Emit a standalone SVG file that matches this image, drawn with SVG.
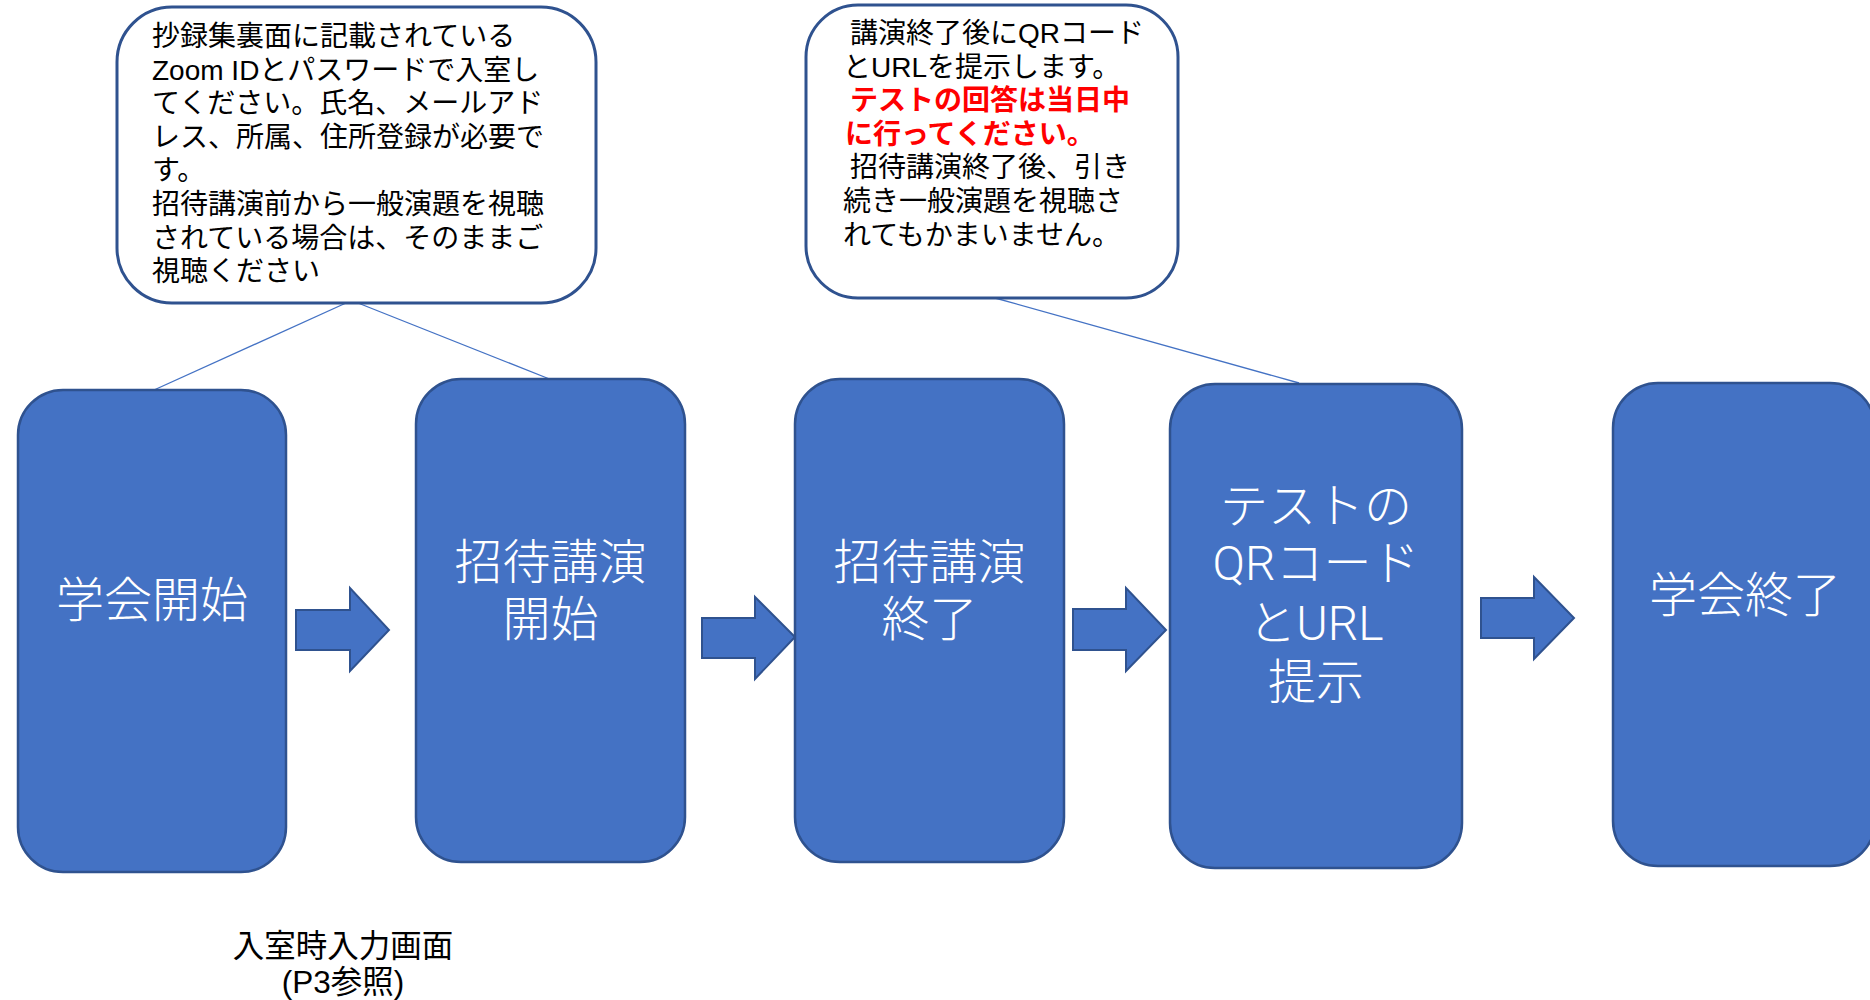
<svg xmlns="http://www.w3.org/2000/svg" width="1870" height="1000" viewBox="0 0 1870 1000">
<style>
.box{fill:#4472C4;stroke:#2F528F;stroke-width:2.5}
.callout{fill:#FFFFFF;stroke:#2F528F;stroke-width:3}
.arrow{fill:#4472C4;stroke:#2F528F;stroke-width:2}
.ptr{stroke:#4472C4;stroke-width:1.3;fill:none}
.note{font-family:"Liberation Sans","Noto Sans CJK JP",sans-serif;font-size:28px;fill:#000000}
.red{fill:#FF0000;font-weight:bold}
.big{font-family:Roboto,"Noto Sans CJK JP",sans-serif;font-size:48px;fill:#FFFFFF;text-anchor:middle;font-weight:300}
.cap{font-family:"Liberation Sans","Noto Sans CJK JP",sans-serif;font-size:31.5px;fill:#000000;text-anchor:middle}
</style>
<rect width="1870" height="1000" fill="#FFFFFF"/>
<g id="connectors">
<line class="ptr" x1="346" y1="303" x2="154" y2="390"/>
<line class="ptr" x1="358" y1="303" x2="552" y2="380"/>
<line class="ptr" x1="995" y1="298" x2="1299" y2="383"/>
<polygon class="arrow" points="296,610 350,610 350,588 389,630 350,671 350,650 296,650"/>
<polygon class="arrow" points="702,618 755,618 755,597 795,637 755,679 755,658 702,658"/>
<polygon class="arrow" points="1073,609 1126,609 1126,588 1166,630 1126,671 1126,650 1073,650"/>
<polygon class="arrow" points="1481,598 1534,598 1534,577 1574,618 1534,659 1534,638 1481,638"/>
</g>
<g id="note1">
<rect class="callout" x="117" y="7" width="479" height="296" rx="55" ry="55"/>
<text class="note">
<tspan x="152" y="46">抄録集裏面に記載されている</tspan>
<tspan x="152" y="79.6">Zoom IDとパスワードで入室し</tspan>
<tspan x="152" y="113.2">てください。氏名、メールアド</tspan>
<tspan x="152" y="146.8">レス、所属、住所登録が必要で</tspan>
<tspan x="152" y="180.4">す。</tspan>
<tspan x="152" y="214">招待講演前から一般演題を視聴</tspan>
<tspan x="152" y="247.6">されている場合は、そのままご</tspan>
<tspan x="152" y="281.2">視聴ください</tspan>
</text>
</g>
<g id="note2">
<rect class="callout" x="806" y="5" width="372" height="293" rx="52" ry="52"/>
<text class="note">
<tspan x="850" y="43">講演終了後にQRコード</tspan>
<tspan x="843" y="76.6">とURLを提示します。</tspan>
<tspan x="850" y="110.2" class="red">テストの回答は当日中</tspan>
<tspan x="845" y="143.8" class="red">に行ってください。</tspan>
<tspan x="850" y="177.4">招待講演終了後、引き</tspan>
<tspan x="843" y="211">続き一般演題を視聴さ</tspan>
<tspan x="843" y="244.6">れてもかまいません。</tspan>
</text>
</g>
<g id="step1">
<rect class="box" x="18" y="390" width="268" height="482" rx="45" ry="45"/>
<text class="big" x="152" y="617">学会開始</text>
</g>
<g id="step2">
<rect class="box" x="416" y="379" width="269" height="483" rx="45" ry="45"/>
<text class="big"><tspan x="550.5" y="579">招待講演</tspan><tspan x="550.5" y="636">開始</tspan></text>
</g>
<g id="step3">
<rect class="box" x="795" y="379" width="269" height="483" rx="45" ry="45"/>
<text class="big"><tspan x="929.5" y="579">招待講演</tspan><tspan x="929.5" y="636">終了</tspan></text>
</g>
<g id="step4">
<rect class="box" x="1170" y="384" width="292" height="484" rx="45" ry="45"/>
<text class="big"><tspan x="1316" y="523">テストの</tspan><tspan x="1316" y="580">QRコード</tspan><tspan x="1316" y="640">とURL</tspan><tspan x="1316" y="699">提示</tspan></text>
</g>
<g id="step5">
<rect class="box" x="1613" y="383" width="262" height="483" rx="45" ry="45"/>
<text class="big" x="1745" y="612">学会終了</text>
</g>
<g id="caption">
<text class="cap"><tspan x="343" y="957">入室時入力画面</tspan><tspan x="343" y="993">(P3参照)</tspan></text>
</g>
</svg>
